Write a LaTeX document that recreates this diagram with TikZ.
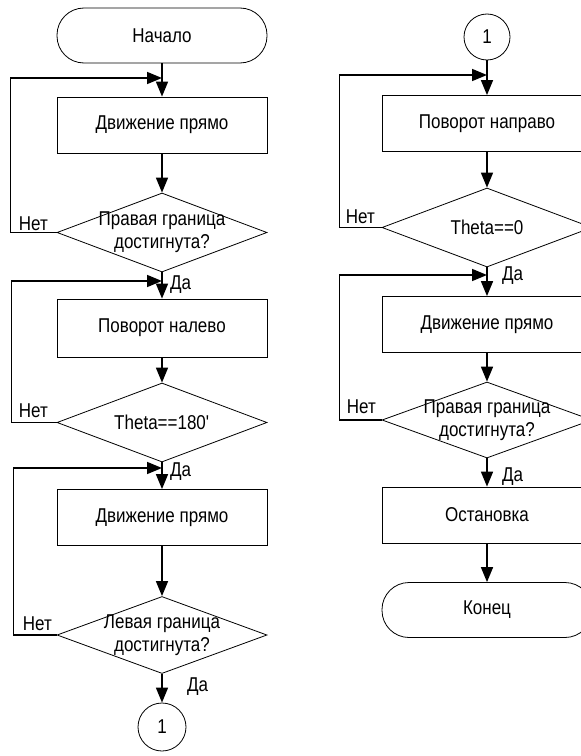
\documentclass[tikz,border=0pt]{standalone}
\usepackage{fontspec}
\setmainfont{Liberation Sans}[FakeStretch=0.85]
\usetikzlibrary{shapes.geometric,arrows.meta}
\newcommand\myfs{\fontsize{20bp}{23bp}\selectfont}
\tikzset{
  base/.style={draw, line width=0.8bp, fill=white, font=\myfs, align=center, inner sep=0pt},
  proc/.style={base, rectangle, minimum width=210bp, minimum height=56bp},
  term/.style={base, rectangle, rounded corners=27bp, minimum width=210bp, minimum height=55bp},
  dec/.style={base, diamond, minimum width=210bp, minimum height=79bp},
  conncirc/.style={base, circle, minimum size=48bp},
  conn/.style={draw, line width=1.6bp, -{Triangle[length=15bp,width=12bp]}},
  lbl/.style={font=\myfs, inner sep=0pt, align=center}
}
\begin{document}
\begin{tikzpicture}[x=1bp,y=-1bp]
\useasboundingbox (0,0) rectangle (581,756);
\clip (0,0) rectangle (581,756);
% left column
\node[term] (start) at (162,35.5) {Начало};
\coordinate (j1) at (162,78);
\node[proc] (b1) at (162,125) {Движение прямо};
\node[dec, label={[lbl]center:Правая граница\\достигнута?}] (d1) at (162,232.5) {};
\coordinate (j2) at (162,281);
\node[proc, minimum height=58bp] (b2) at (162,328) {Поворот налево};
\node[dec, label={[lbl]center:Theta==180\textquotesingle}] (d2) at (162,422.5) {};
\coordinate (j3) at (162,468);
\node[proc] (b3) at (162,517.5) {Движение прямо};
\node[dec, minimum height=77bp, label={[lbl]center:Левая граница\\достигнута?}] (d3) at (162,635) {};
\node[conncirc] (c1) at (162,727) {1};
% right column
\node[conncirc, minimum size=46bp] (c2) at (487,37) {1};
\coordinate (j4) at (487,75);
\node[proc] (b4) at (487,123.5) {Поворот направо};
\node[dec, label={[lbl]center:Theta==0}] (d4) at (487,227.5) {};
\coordinate (j5) at (487,275);
\node[proc] (b5) at (487,324.5) {Движение прямо};
\node[dec, minimum height=76bp, label={[lbl]center:Правая граница\\достигнута?}] (d5) at (487,420) {};
\node[proc] (b6) at (487,515) {Остановка};
\node[term] (end) at (487,610) {Конец};
% connectors left
\draw[conn] (start) -- (b1);
\draw[conn] (b1) -- (d1);
\draw[conn] (d1.west) -- ++(-46,0) |- (j1);
\draw[conn] (d1) -- (b2);
\draw[conn] (b2) -- (d2);
\draw[conn] (d2.west) -- ++(-45,0) |- (j2);
\draw[conn] (d2) -- (b3);
\draw[conn] (b3) -- (d3);
\draw[conn] (d3.west) -- ++(-43,0) |- (j3);
\draw[conn] (d3) -- (c1);
% connectors right
\draw[conn] (c2) -- (b4);
\draw[conn] (b4) -- (d4);
\draw[conn] (d4.west) -- ++(-42,0) |- (j4);
\draw[conn] (d4) -- (b5);
\draw[conn] (b5) -- (d5);
\draw[conn] (d5.west) -- ++(-42,0) |- (j5);
\draw[conn] (d5) -- (b6);
\draw[conn] (b6) -- (end);
% labels
\node[lbl, anchor=base east] (n1) at (48,230) {Нет};
\node[lbl, anchor=base east] (n2) at (48,417) {Нет};
\node[lbl, anchor=base east] (n3) at (52,630) {Нет};
\node[lbl, anchor=base east] (n4) at (375,223) {Нет};
\node[lbl, anchor=base east] (n5) at (376,413) {Нет};
\node[lbl, anchor=base west] (y1) at (170,289) {Да};
\node[lbl, anchor=base west] (y2) at (170,476) {Да};
\node[lbl, anchor=base west] (y3) at (187,691) {Да};
\node[lbl, anchor=base west] (y4) at (502,280) {Да};
\node[lbl, anchor=base west] (y5) at (502,481) {Да};
\end{tikzpicture}
\end{document}
